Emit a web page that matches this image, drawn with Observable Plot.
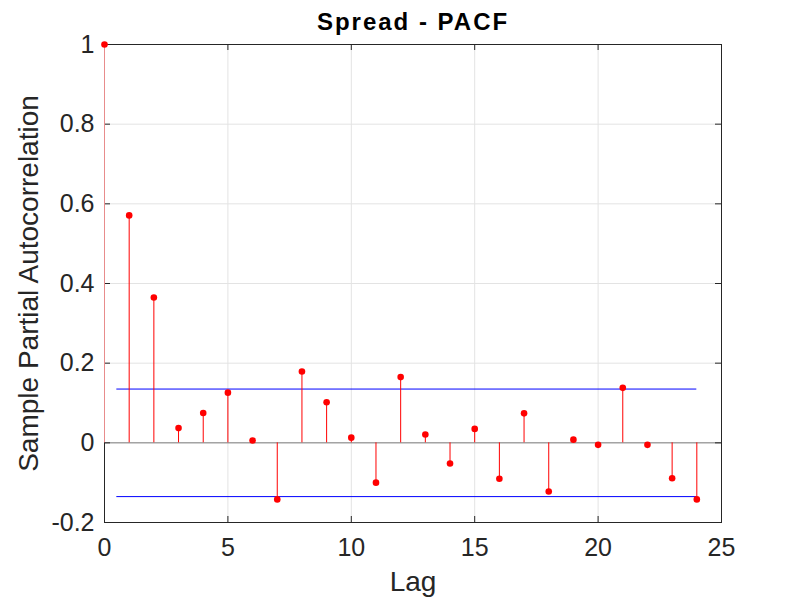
<!DOCTYPE html>
<html><head><meta charset="utf-8">
<script src="https://cdn.jsdelivr.net/npm/d3@7"></script>
<script src="https://cdn.jsdelivr.net/npm/@observablehq/plot@0.6"></script>
<style>body{margin:0;background:#fff}</style>
</head><body><div id="chart"></div>
<script>
const lags = [0,1,2,3,4,5,6,7,8,9,10,11,12,13,14,15,16,17,18,19,20,21,22,23,24];
const pacf = [1, 0.571, 0.365, 0.037, 0.075, 0.126, 0.006, -0.142, 0.179, 0.102, 0.013, -0.100, 0.165, 0.021, -0.052, 0.035, -0.090, 0.074, -0.122, 0.008, -0.005, 0.138, -0.005, -0.089, -0.142];
const bound = 0.135;
const boundRange = [0.5, 24];
const xTicks = [0,5,10,15,20,25];
const xTickLabels = ["0","5","10","15","20","25"];
const yTicks = [-0.2,0,0.2,0.4,0.6,0.8,1];
const yTickLabels = ["-0.2","0","0.2","0.4","0.6","0.8","1"];
const titleText = "Spread - PACF";
const xLabel = "Lag";
const yLabel = "Sample Partial Autocorrelation";

const data = lags.map((lag, i) => ({lag, value: pacf[i]}));
const W = 797, H = 598, mL = 104, mR = 76, mT = 44, mB = 76;
const frameW = W - mL - mR, frameH = H - mT - mB;
const axisColor = "#262626";
const gridColor = "#e3e3e3";
const lab = (ticks, labels) => d => labels[ticks.findIndex(t => Math.abs(t - d) < 1e-9)];

const chart = Plot.plot({
  width: W, height: H,
  marginLeft: mL, marginRight: mR, marginTop: mT, marginBottom: mB,
  style: {fontFamily: "'Liberation Sans', Arial, Helvetica, sans-serif", background: "#fff", color: axisColor},
  x: {domain: [0, 25], ticks: xTicks},
  y: {domain: [-0.2, 1], ticks: yTicks},
  marks: [
    Plot.ruleX(xTicks.slice(1, -1), {stroke: gridColor}),
    Plot.ruleY(yTicks.slice(1, -1), {stroke: gridColor}),
    Plot.ruleY([0], {stroke: "#808080"}),
    Plot.ruleY([bound, -bound], {x1: boundRange[0], x2: boundRange[1], stroke: "#0000ff"}),
    Plot.frame({stroke: axisColor}),
    Plot.ruleX(xTicks, {insetTop: frameH - 6, stroke: axisColor}),
    Plot.ruleX(xTicks, {insetBottom: frameH - 6, stroke: axisColor}),
    Plot.ruleY(yTicks, {insetRight: frameW - 6, stroke: axisColor}),
    Plot.ruleY(yTicks, {insetLeft: frameW - 6, stroke: axisColor}),
    Plot.ruleX(data, {x: "lag", y1: 0, y2: "value", stroke: d => d.lag === 0 ? "#e88c8c" : "#ff0000"}),
    Plot.dot(data, {x: "lag", y: "value", r: 3.3, fill: "#ff0000"}),
    Plot.axisX({ticks: xTicks, tickSize: 0, tickPadding: 16, fontSize: 25, label: null, tickFormat: lab(xTicks, xTickLabels), fill: axisColor}),
    Plot.axisY({ticks: yTicks, tickSize: 0, tickPadding: 10, fontSize: 25, label: null, tickFormat: lab(yTicks, yTickLabels), fill: axisColor}),
    Plot.text([titleText], {frameAnchor: "top", dy: -15, lineAnchor: "bottom", fontSize: 24, fontWeight: "bold", fill: "#000"}),
    Plot.text([xLabel], {frameAnchor: "bottom", dy: 68, lineAnchor: "bottom", fontSize: 28, fill: axisColor}),
    Plot.text([yLabel], {frameAnchor: "left", textAnchor: "middle", dx: -67, rotate: -90, lineAnchor: "bottom", fontSize: 28, fill: axisColor})
  ]
});
chart.querySelectorAll("text").forEach(t => { if (t.textContent === titleText) t.style.letterSpacing = "2px"; });
document.getElementById("chart").append(chart);
</script>
</body></html>
